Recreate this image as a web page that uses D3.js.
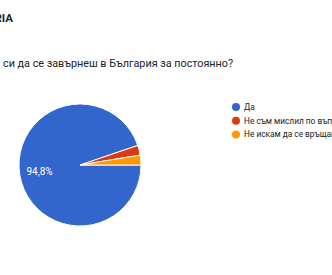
<!DOCTYPE html>
<html><head><meta charset="utf-8">
<script src="https://cdn.jsdelivr.net/npm/d3@7"></script>
<style>html,body{margin:0;padding:0;background:#fff;overflow:hidden;}svg{display:block;}</style>
</head><body>
<script>
const categories = ["Да", "Не съм мислил по въпроса", "Не искам да се връщам"];
const values = [94.8, 2.6, 2.6];
const colors = ["#3366cc", "#dc3912", "#ff9900"];
const header = "RIA";
const title = "си да се завърнеш в България за постоянно?";

const W = 332, H = 275;
const FONT = "Roboto, 'Liberation Sans', Arial, sans-serif";
const svg = d3.select("body").append("svg").attr("width", W).attr("height", H);

svg.append("text").attr("x", 13).attr("y", 22).attr("text-anchor", "end")
  .attr("font-family", FONT).attr("font-weight", "bold")
  .attr("font-size", 11.5).attr("fill", "#202124").text(header);

svg.append("text").attr("x", 3).attr("y", 67)
  .attr("font-family", FONT)
  .attr("font-size", 10.8).attr("fill", "#202124").text(title);

const cx = 80, cy = 165, r = 61;
const pie = d3.pie().sort(null).value(d => d)
  .startAngle(Math.PI / 2).endAngle(Math.PI / 2 + 2 * Math.PI);
const arcs = pie(values);
const arc = d3.arc().innerRadius(0).outerRadius(r);
const labelArc = d3.arc().innerRadius(41).outerRadius(41);
const g = svg.append("g").attr("transform", `translate(${cx},${cy})`);
g.selectAll("path").data(arcs).join("path")
  .attr("d", arc).attr("fill", (d, i) => colors[i])
  .attr("stroke", "#fff").attr("stroke-width", 1);
const fmt = v => v.toFixed(1).replace(".", ",") + "%";
g.selectAll("text").data(arcs.filter(d => d.data > 10)).join("text")
  .attr("transform", d => `translate(${labelArc.centroid(d)})`)
  .attr("text-anchor", "middle").attr("dy", "0.35em")
  .attr("font-family", FONT).attr("font-size", 10)
  .attr("fill", "#fff").text(d => fmt(d.data));

const leg = svg.append("g");
const y0 = 107, dy = 13.7;
categories.forEach((c, i) => {
  leg.append("circle").attr("cx", 236).attr("cy", y0 + i * dy).attr("r", 4).attr("fill", colors[i]);
  leg.append("text").attr("x", 244).attr("y", y0 + i * dy).attr("dy", "0.35em")
    .attr("font-family", FONT).attr("font-size", 8.3)
    .attr("fill", "#222").text(c);
});
</script>
</body></html>
